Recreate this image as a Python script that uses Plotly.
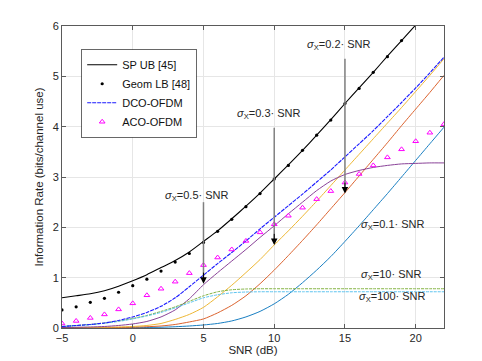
import plotly.graph_objects as go

snr = list(range(-5, 23))
snr_ub = list(range(-5, 21))
snr_lb = list(range(-5, 20))

sp_ub = [0.60, 0.64, 0.68, 0.74, 0.83, 0.94, 1.06, 1.20, 1.34, 1.51, 1.72, 1.93, 2.17,
         2.42, 2.68, 2.96, 3.24, 3.53, 3.83, 4.14, 4.46, 4.77, 5.08, 5.40, 5.71, 6.02]
geom_lb = [0.36, 0.42, 0.51, 0.59, 0.71, 0.84, 0.97, 1.13, 1.31, 1.48, 1.70, 1.92, 2.16,
           2.41, 2.67, 2.96, 3.23, 3.53, 3.83, 4.13, 4.46, 4.76, 5.08, 5.39, 5.71]
aco_ofdm = [0.09, 0.14, 0.20, 0.27, 0.37, 0.49, 0.65, 0.78, 0.92, 1.09, 1.25, 1.40, 1.56, 1.73,
            1.90, 2.06, 2.23, 2.39, 2.56, 2.72, 2.89, 3.06, 3.23, 3.39, 3.55, 3.71, 3.88, 4.05]
dco_ofdm = [0.03, 0.05, 0.07, 0.10, 0.15, 0.22, 0.31, 0.43, 0.60, 0.82, 1.05, 1.28, 1.50, 1.73,
            1.97, 2.20, 2.43, 2.66, 2.90, 3.14, 3.40, 3.66, 3.92, 4.20, 4.48, 4.77, 5.07, 5.38]
dco_s05 = [0.01, 0.015, 0.02, 0.03, 0.05, 0.08, 0.13, 0.22, 0.36, 0.58, 0.86, 1.10, 1.33, 1.56,
           1.80, 2.03, 2.27, 2.50, 2.73, 2.92, 3.05, 3.13, 3.19, 3.23, 3.26, 3.27, 3.28, 3.28]
dco_s03 = [0.0, 0.005, 0.01, 0.015, 0.02, 0.03, 0.05, 0.09, 0.17, 0.27, 0.41, 0.62, 0.85, 1.10,
           1.36, 1.65, 1.93, 2.22, 2.52, 2.83, 3.14, 3.45, 3.76, 4.07, 4.38, 4.70, 5.02, 5.35]
dco_s02 = [0.0, 0.0, 0.0, 0.005, 0.01, 0.015, 0.025, 0.04, 0.07, 0.12, 0.18, 0.30, 0.45, 0.64,
           0.88, 1.15, 1.44, 1.74, 2.05, 2.37, 2.69, 3.02, 3.35, 3.68, 4.02, 4.35, 4.68, 5.02]
dco_s01 = [0.0, 0.0, 0.0, 0.0, 0.0, 0.005, 0.01, 0.015, 0.025, 0.04, 0.06, 0.09, 0.14, 0.22,
           0.33, 0.48, 0.67, 0.90, 1.15, 1.42, 1.72, 2.03, 2.35, 2.67, 3.00, 3.33, 3.66, 3.99]
dco_s10 = [0.03, 0.05, 0.07, 0.10, 0.14, 0.19, 0.25, 0.33, 0.42, 0.53, 0.64, 0.72, 0.76, 0.775,
           0.78, 0.78, 0.78, 0.78, 0.78, 0.78, 0.78, 0.78, 0.78, 0.78, 0.78, 0.78, 0.78, 0.78]
dco_s100 = [0.03, 0.045, 0.065, 0.095, 0.13, 0.18, 0.24, 0.31, 0.40, 0.50, 0.60, 0.66, 0.70, 0.715,
            0.72, 0.72, 0.72, 0.72, 0.72, 0.72, 0.72, 0.72, 0.72, 0.72, 0.72, 0.72, 0.72, 0.72]

x_ticks = [-5, 0, 5, 10, 15, 20]
y_ticks = [0, 1, 2, 3, 4, 5, 6]

FONT = "Liberation Sans, Arial, sans-serif"

fig = go.Figure()

colored = [
    (dco_s01, "#0072BD", "solid"),
    (dco_s02, "#D95319", "solid"),
    (dco_s03, "#EDB120", "solid"),
    (dco_s05, "#7E2F8E", "solid"),
    (dco_s10, "#77AC30", "3px,1px"),
    (dco_s100, "#4DBEEE", "3px,1px"),
]
for vals, col, dash in colored:
    fig.add_trace(go.Scatter(x=snr, y=vals, mode="lines", showlegend=False,
                             line=dict(color=col, width=1, dash=dash, shape="spline", smoothing=0.6),
                             opacity=0.9, hoverinfo="skip"))

fig.add_trace(go.Scatter(x=snr_ub, y=sp_ub, mode="lines", name="SP UB [45]",
                         line=dict(color="black", width=1.1, shape="spline", smoothing=0.6)))
fig.add_trace(go.Scatter(x=snr_lb, y=geom_lb, mode="markers", name="Geom LB [48]",
                         marker=dict(color="black", size=3.2, symbol="circle")))
fig.add_trace(go.Scatter(x=snr, y=dco_ofdm, mode="lines", name="DCO-OFDM",
                         line=dict(color="#1a1aff", width=1.1, dash="4px,1px", shape="spline",
                                   smoothing=0.6)))
fig.add_trace(go.Scatter(x=snr, y=aco_ofdm, mode="markers", name="ACO-OFDM",
                         marker=dict(color="#FF00FF", size=5, symbol="triangle-up-open",
                                     line=dict(width=1))))

annotations = []
shapes = []

def arrow(x, y_top, y_tip):
    shapes.append(dict(type="line", xref="x", yref="y", x0=x, x1=x, y0=y_top, y1=y_tip + 0.1,
                       line=dict(color="#808080", width=1.5), layer="above"))
    annotations.append(dict(x=x, y=y_tip, ax=x, ay=y_tip + 0.25, xref="x", yref="y",
                            axref="x", ayref="y", showarrow=True, arrowhead=2, arrowsize=1.3,
                            arrowwidth=1, arrowcolor="black", text=""))

def label(x, y, val):
    annotations.append(dict(x=x, y=y, xref="x", yref="y", showarrow=False,
                            text="<i>σ</i><sub>X</sub>=" + val + "· SNR",
                            font=dict(family=FONT, size=11, color="#262626")))

arrow(5, 2.5, 0.88)
arrow(10, 3.98, 1.65)
arrow(15, 5.35, 2.67)
label(4.5, 2.62, "0.5")
label(9.58, 4.26, "0.3")
label(14.56, 5.62, "0.2")
label(18.38, 2.04, "0.1")
label(18.27, 1.06, "10")
label(18.38, 0.61, "100")

axis_common = dict(showgrid=True, gridcolor="#e6e6e6", gridwidth=1, zeroline=False,
                   showline=True, linecolor="#5a5a5a", linewidth=1, mirror="allticks",
                   ticks="inside", ticklen=4, tickcolor="#5a5a5a", automargin=False,
                   tickfont=dict(family=FONT, size=11, color="#262626"))

# page body has an 8px margin, so the figure is drawn 8px lower and to the right
fig.update_layout(
    width=474, height=353,
    margin=dict(l=54, r=38, t=18, b=33, autoexpand=False),
    paper_bgcolor="white", plot_bgcolor="white",
    font=dict(family=FONT, size=11, color="#262626"),
    xaxis=dict(range=[-5, 22], tickvals=x_ticks,
               title=dict(text="SNR (dB)", font=dict(family=FONT, size=11.5), standoff=2),
               **axis_common),
    yaxis=dict(range=[0, 6], tickvals=y_ticks,
               title=dict(text="Information Rate (bits/channel use)", font=dict(family=FONT, size=11.5),
                          standoff=6),
               **axis_common),
    legend=dict(x=0.051, y=0.922, xanchor="left", yanchor="top", bgcolor="white",
                bordercolor="#262626", borderwidth=0.7, font=dict(family=FONT, size=11, color="#111"),
                tracegroupgap=0, itemwidth=30),
    annotations=annotations,
    shapes=shapes,
    showlegend=True,
)

fig.write_html("out.html")
